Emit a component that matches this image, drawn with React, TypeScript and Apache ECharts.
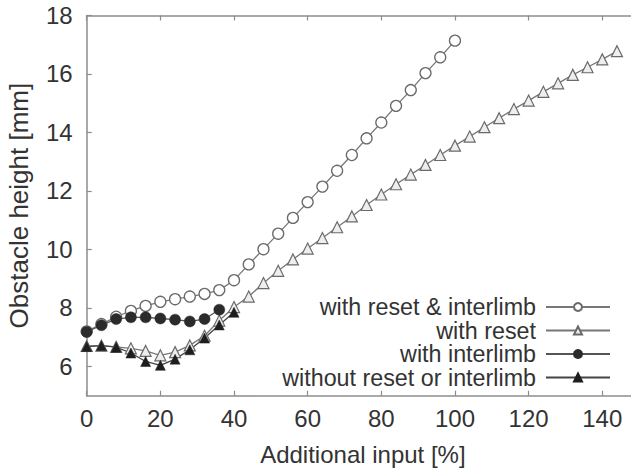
import React, { useEffect, useRef } from "react";
import * as echarts from "echarts";

const xResetInterlimb = [0, 4, 8, 12, 16, 20, 24, 28, 32, 36, 40, 44, 48, 52, 56, 60, 64, 68, 72, 76, 80, 84, 88, 92, 96, 100];
const yResetInterlimb = [7.2, 7.45, 7.7, 7.9, 8.07, 8.21, 8.3, 8.39, 8.48, 8.61, 8.95, 9.49, 10.01, 10.54, 11.08, 11.62, 12.15, 12.69, 13.23, 13.8, 14.34, 14.91, 15.45, 16.03, 16.57, 17.14];

const xReset = [0, 4, 8, 12, 16, 20, 24, 28, 32, 36, 40, 44, 48, 52, 56, 60, 64, 68, 72, 76, 80, 84, 88, 92, 96, 100, 104, 108, 112, 116, 120, 124, 128, 132, 136, 140, 144];
const yReset = [6.7, 6.71, 6.67, 6.62, 6.53, 6.38, 6.49, 6.72, 7.05, 7.57, 8.03, 8.39, 8.85, 9.27, 9.66, 10.03, 10.39, 10.76, 11.13, 11.52, 11.88, 12.23, 12.56, 12.89, 13.23, 13.55, 13.86, 14.18, 14.49, 14.8, 15.09, 15.39, 15.68, 15.97, 16.23, 16.5, 16.78];

const xInterlimb = [0, 4, 8, 12, 16, 20, 24, 28, 32, 36];
const yInterlimb = [7.18, 7.41, 7.62, 7.68, 7.68, 7.64, 7.6, 7.54, 7.62, 7.94];

const xNone = [0, 4, 8, 12, 16, 20, 24, 28, 32, 36, 40];
const yNone = [6.68, 6.71, 6.66, 6.46, 6.17, 6.04, 6.25, 6.57, 6.97, 7.42, 7.85];

const seriesNames = ["with reset & interlimb", "with reset", "with interlimb", "without reset or interlimb"];

const zip = (xs: number[], ys: number[]) => xs.map((x, i) => [x, ys[i]]);

export default function App() {
  const ref = useRef<HTMLDivElement>(null);
  useEffect(() => {
    if (!ref.current) return;
    const chart = echarts.init(ref.current, null, { renderer: "svg" });
    const font = "'Liberation Sans', Arial, sans-serif";
    const axisColor = "#8c8c8c";
    const textColor = "#333";
    chart.setOption({
      animation: false,
      backgroundColor: "#fff",
      textStyle: { fontFamily: font },
      grid: { left: 86.7, top: 15.5, bottom: 74.3, right: -8.1, containLabel: false, outerBoundsMode: "none" },
      xAxis: [
        {
          type: "value",
          min: 0,
          max: 150,
          interval: 20,
          position: "bottom",
          name: "Additional input [%]",
          nameLocation: "middle",
          nameGap: 47,
          nameTextStyle: { fontSize: 24, color: textColor, fontFamily: font },
          axisLine: { show: true, lineStyle: { color: axisColor, width: 1.5 } },
          axisTick: { show: true, inside: true, length: 5, lineStyle: { color: axisColor, width: 1.2 } },
          axisLabel: { fontSize: 24, color: textColor, margin: 11, showMaxLabel: false, fontFamily: font },
          splitLine: { show: false },
        },
        {
          type: "value",
          min: 0,
          max: 150,
          interval: 20,
          position: "top",
          axisLine: { show: true, lineStyle: { color: axisColor, width: 1.5 } },
          axisTick: { show: true, inside: true, length: 5, lineStyle: { color: axisColor, width: 1.2 } },
          axisLabel: { show: false },
          splitLine: { show: false },
        },
      ],
      yAxis: {
        type: "value",
        min: 5,
        max: 18,
        splitNumber: 6,
        name: "Obstacle height [mm]",
        nameLocation: "middle",
        nameGap: 55,
        nameTextStyle: { fontSize: 26, color: textColor, fontFamily: font },
        axisLine: { show: true, lineStyle: { color: axisColor, width: 1.5 } },
        axisTick: { show: true, inside: true, length: 5, lineStyle: { color: axisColor, width: 1.2 } },
        axisLabel: { fontSize: 24, color: textColor, margin: 14, showMinLabel: false, fontFamily: font },
        splitLine: { show: false },
      },
      legend: {
        orient: "vertical",
        right: 20,
        top: 295.5,
        padding: 0,
        align: "right",
        itemWidth: 64,
        itemHeight: 10,
        itemGap: 0.5,
        textStyle: { fontSize: 23.3, color: textColor, fontFamily: font, padding: [0, 5, 0, 0] },
        data: seriesNames,
      },
      series: [
        {
          name: seriesNames[0],
          type: "line",
          data: zip(xResetInterlimb, yResetInterlimb),
          symbol: "circle",
          symbolSize: 11,
          itemStyle: { color: "#ffffff", borderColor: "#6a6a6a", borderWidth: 1.3 },
          lineStyle: { color: "#777777", width: 1.3 },
        },
        {
          name: seriesNames[1],
          type: "line",
          data: zip(xReset, yReset),
          symbol: "triangle",
          symbolSize: 11,
          itemStyle: { color: "#eeeeee", borderColor: "#6a6a6a", borderWidth: 1.2 },
          lineStyle: { color: "#777777", width: 1.3 },
        },
        {
          name: seriesNames[2],
          type: "line",
          data: zip(xInterlimb, yInterlimb),
          symbol: "circle",
          symbolSize: 11,
          itemStyle: { color: "#2b2b2b", borderColor: "#2b2b2b", borderWidth: 0.5 },
          lineStyle: { color: "#555555", width: 1.3 },
        },
        {
          name: seriesNames[3],
          type: "line",
          data: zip(xNone, yNone),
          symbol: "triangle",
          symbolSize: 10,
          itemStyle: { color: "#1e1e1e", borderColor: "#1e1e1e", borderWidth: 0.5 },
          lineStyle: { color: "#444444", width: 1.3 },
        },
      ],
    });
    return () => chart.dispose();
  }, []);
  return (
    <div
      ref={ref}
      style={{ position: "fixed", left: 0, top: 0, width: 631, height: 470, background: "#fff" }}
    />
  );
}
